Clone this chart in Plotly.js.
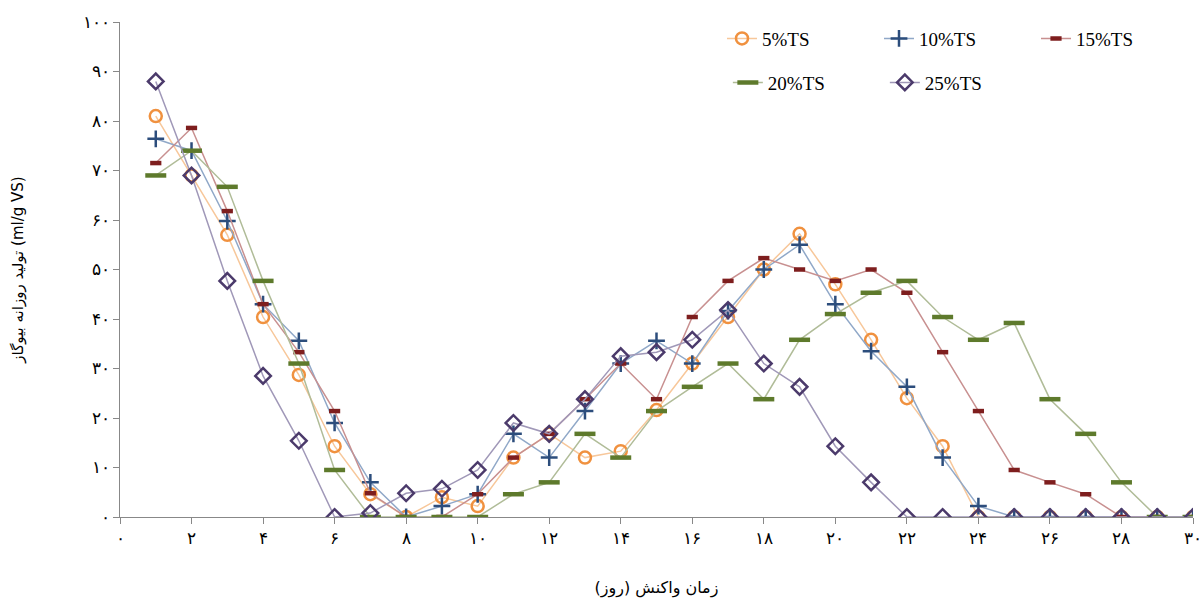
<!DOCTYPE html>
<html>
<head>
<meta charset="utf-8">
<script src="https://cdn.plot.ly/plotly-3.0.1.min.js"></script>
<style>body{margin:0;background:#fff}#chart{width:1204px;height:603px}</style>
</head>
<body>
<div id="chart"></div>
<script>
// روزها
const days = [1,2,3,4,5,6,7,8,9,10,11,12,13,14,15,16,17,18,19,20,21,22,23,24,25,26,27,28,29,30];

const ts5  = [81,69,57,40.4,28.7,14.3,4.6,0,4,2.2,12,16.8,12,13.3,21.6,31,40.4,50,57.2,47,35.8,24,14.3,0,0,0,0,0,0,0];
const ts10 = [76.4,74,59.8,43,35.6,19,7,0,2.2,4.6,16.8,12,21.4,31,35.6,31,41.6,50,55,43,33.5,26.3,12,2.2,0,0,0,0,0,0];
const ts15 = [71.5,78.6,61.8,43,33.3,21.4,4.8,0,0,4.6,12,16.8,23.8,31,23.8,40.4,47.7,52.3,50,47.7,50,45.3,33.3,21.4,9.5,7,4.6,0,0,0];
const ts20 = [69,74,66.7,47.7,31,9.5,0,0,0,0,4.6,7,16.8,12,21.4,26.3,31,23.8,35.8,41,45.3,47.7,40.4,35.8,39.2,23.8,16.8,7,0,0];
const ts25 = [88,69,47.7,28.5,15.4,0,0.8,4.8,5.7,9.5,19,16.8,23.8,32.5,33.3,35.8,41.8,31,26.3,14.3,7,0,0,0,0,0,0,0,0,0];

const xTicks = [0,2,4,6,8,10,12,14,16,18,20,22,24,26,28,30];
const yTicks = [0,10,20,30,40,50,60,70,80,90,100];

function fa(n) {
  return String(n).replace(/\d/g, d => '۰۱۲۳۴۵۶۷۸۹'[d]);
}

function serie(name, y, lineColor, marker, legend) {
  return { x: days, y, name, legend, mode: 'lines+markers', line: { color: lineColor, width: 1.5 }, marker };
}

const traces = [
  serie('5%TS', ts5, '#f7c79a', { symbol: 'circle-open', size: 12, color: '#f0913f', line: { width: 2.5 } }, 'legend'),
  serie('10%TS', ts10, '#90a8c8', { symbol: 'cross-thin-open', size: 12, color: '#2c4d7c', line: { width: 2.5 } }, 'legend'),
  serie('15%TS', ts15, '#c89090', { symbol: 'line-ew-open', size: 8, color: '#7e1e1e', line: { width: 4.5 } }, 'legend'),
  serie('20%TS', ts20, '#b0bc98', { symbol: 'line-ew-open', size: 15, color: '#5e7a2c', line: { width: 4.5 } }, 'legend2'),
  serie('25%TS', ts25, '#a098b8', { symbol: 'diamond-open', size: 12, color: '#4b3a6b', line: { width: 2.5 } }, 'legend2')
];

const legendBase = {
  orientation: 'h', yanchor: 'top',
  entrywidth: 112, font: { size: 19 }, bgcolor: 'rgba(0,0,0,0)'
};

const layout = {
  width: 1204, height: 603,
  margin: { l: 120, r: 11, t: 22, b: 86 },
  paper_bgcolor: '#fff', plot_bgcolor: '#fff',
  font: { family: 'Liberation Serif, DejaVu Serif', color: '#000', size: 17 },
  xaxis: {
    range: [0, 30], tickvals: xTicks, ticktext: xTicks.map(fa),
    showgrid: false, zeroline: false, showline: true, linecolor: '#888',
    ticks: 'outside', ticklen: 6, tickcolor: '#888',
    title: { text: 'زمان واکنش (روز)', font: { size: 16, family: 'DejaVu Sans' }, standoff: 34 }
  },
  yaxis: {
    range: [0, 100], tickvals: yTicks, ticktext: yTicks.map(fa),
    showgrid: false, zeroline: false, showline: true, linecolor: '#888',
    ticks: 'outside', ticklen: 6, tickcolor: '#888',
    title: { text: 'تولید روزانه بیوگاز (ml/g VS)', font: { size: 15, family: 'DejaVu Sans' }, standoff: 55 }
  },
  showlegend: true,
  legend: Object.assign({}, legendBase, { x: 1.0, xanchor: 'right', y: 1.005 }),
  legend2: Object.assign({}, legendBase, { x: 0.5665, xanchor: 'left', y: 0.916 })
};

Plotly.newPlot('chart', traces, layout, { displayModeBar: false, staticPlot: true });
</script>
</body>
</html>
